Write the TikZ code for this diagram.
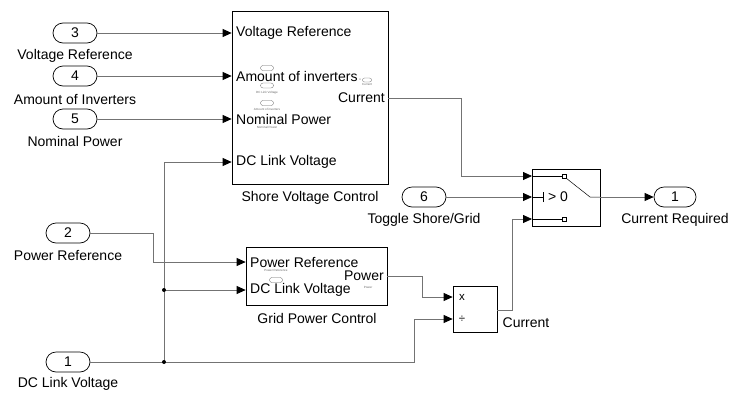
\documentclass[tikz,border=0pt]{standalone}
\usepackage{fontspec}
\setmainfont{Liberation Sans}
\usetikzlibrary{arrows.meta,shapes.misc}
\begin{document}
\begin{tikzpicture}[x=1pt,y=-1pt,
  wire/.style={draw=black!55,line width=0.8pt},
  arr/.style={wire,-{Triangle[length=9pt,width=8pt,color=black]}},
  port/.style={draw,line width=0.7pt,rounded rectangle,minimum width=44pt,minimum height=20pt,inner sep=0pt,font=\fontsize{14}{16}\selectfont},
  lbl/.style={inner sep=0pt,font=\fontsize{14}{16}\selectfont},
  block/.style={draw,line width=0.7pt,inner sep=0pt},
  small/.style={inner sep=0pt,font=\fontsize{11.5}{12}\selectfont},
  ghost/.style={inner sep=0pt,text=black!60,font=\fontsize{3}{3.5}\selectfont},
  gport/.style={draw=black!60,line width=0.3pt,rounded rectangle,minimum width=13pt,minimum height=5pt,inner sep=0pt},
  dot/.style={circle,fill=black,inner sep=0pt,minimum size=4pt}]
\useasboundingbox (0,0) rectangle (730,394);

% inports
\node[port] (in3) at (75,33) {3};
\node[lbl] (l3) at (75,56) {Voltage Reference};
\node[port] (in4) at (75,76) {4};
\node[lbl] (l4) at (75,99) {Amount of Inverters};
\node[port] (in5) at (75,119) {5};
\node[lbl] (l5) at (75,141) {Nominal Power};
\node[port] (in2) at (68,233) {2};
\node[lbl] (l2) at (68,255) {Power Reference};
\node[port] (in1) at (68,362) {1};
\node[lbl] (l1) at (68,384) {DC Link Voltage};
\node[port] (in6) at (424,197) {6};
\node[lbl] (l6) at (424,220) {Toggle Shore/Grid};
\node[port,minimum width=42pt] (out1) at (675,197) {1};
\node[lbl] (lo1) at (675,220) {Current Required};

% shore block
\node[block,minimum width=156pt,minimum height=173pt] (shore) at (310,97.5) {};
\node[lbl] (shoreL) at (310,198) {Shore Voltage Control};
\node[lbl,anchor=west] (sp1) at (236,33) {Voltage Reference};
\node[lbl,anchor=west] (sp2) at (236,76) {Amount of inverters};
\node[lbl,anchor=west] (sp3) at (236,119) {Nominal Power};
\node[lbl,anchor=west] (sp4) at (236,162) {DC Link Voltage};
\node[lbl,anchor=east] (so) at (385,98) {Current};
% ghost content
\node[gport] (g1) at (267,68) {};
\node[gport] (g2) at (267,85.5) {};
\node[ghost] (g2t) at (267,93) {DC Link Voltage};
\node[gport] (g3) at (267,103) {};
\node[ghost] (g3t) at (267,109) {Amount of inverters};
\node[ghost] (g4t) at (267,127) {Nominal Power};
\node[gport,minimum width=9pt,minimum height=4pt] (g5) at (367,80) {};
\node[ghost] (g5x) at (360,80) {x};
\node[ghost] (g5t) at (367,84.5) {Current};

% grid block
\node[block,minimum width=141pt,minimum height=58pt] (grid) at (316.5,276) {};
\node[lbl] (gridL) at (317,318) {Grid Power Control};
\node[lbl,anchor=west] (gp1) at (250,262) {Power Reference};
\node[lbl,anchor=west] (gp2) at (250,290) {DC Link Voltage};
\node[lbl,anchor=east] (go) at (384,276) {Power};
\node[ghost] (g6t) at (276,270) {Power Reference};
\node[gport] (g7) at (276,280) {};
\node[ghost] (g8t) at (368,287) {Power};

% product
\node[block,minimum width=44pt,minimum height=46pt] (prod) at (475,309) {};
\node[small] (px) at (462,297) {x};
\node[small] (pd) at (462,319) {÷};
\node[lbl] (pl) at (526,323) {Current};

% switch
\node[block,minimum width=68pt,minimum height=57pt] (sw) at (566,197.5) {};
\node[draw,line width=0.4pt,inner sep=0pt,minimum size=4pt] (sq1) at (564,176) {};
\node[draw,line width=0.4pt,inner sep=0pt,minimum size=4pt] (sq3) at (564,219) {};
\node[lbl] (gt) at (558,197) {> 0};
\coordinate (swi1) at (532,176);
\coordinate (swi2) at (532,197);
\coordinate (swi3) at (532,219);
\coordinate (tick) at (543,197);
\coordinate (kn) at (590,197);
\draw[line width=0.5pt] (swi1) -- (sq1.west);
\draw[line width=0.5pt] (swi3) -- (sq3.west);
\draw[line width=0.5pt] (swi2) -- (tick);
\draw[line width=0.5pt] ([yshift=-5pt]tick) -- ([yshift=5pt]tick);
\draw[line width=0.5pt] (sq1.south east) -- (kn) -- (sw.east |- kn);

% connectors
\draw[arr] (in3.east) -- (shore.west |- in3);
\draw[arr] (in4.east) -- (shore.west |- in4);
\draw[arr] (in5.east) -- (shore.west |- in5);
\coordinate (j1) at (164,362);
\coordinate (j2) at (164,290);
\draw[arr] (in1.east) -- (414,362) |- (prod.west |- pd);
\draw[arr] (j1) |- (shore.west |- sp4);
\draw[arr] (j2) -- (grid.west |- gp2);
\node[dot] at (j1) {};
\node[dot] at (j2) {};
\draw[arr] (in2.east) -- (153,233) |- (grid.west |- gp1);
\draw[arr] (grid.east |- go) -- (422,276) |- (prod.west |- px);
\draw[arr] (shore.east |- so) -- (461,98) |- (swi1);
\draw[arr] (in6.east) -- (swi2);
\draw[arr] (prod.east |- 0,310) -- (512,310) |- (swi3);
\draw[arr] (sw.east |- kn) -- (out1.west);
\end{tikzpicture}
\end{document}
